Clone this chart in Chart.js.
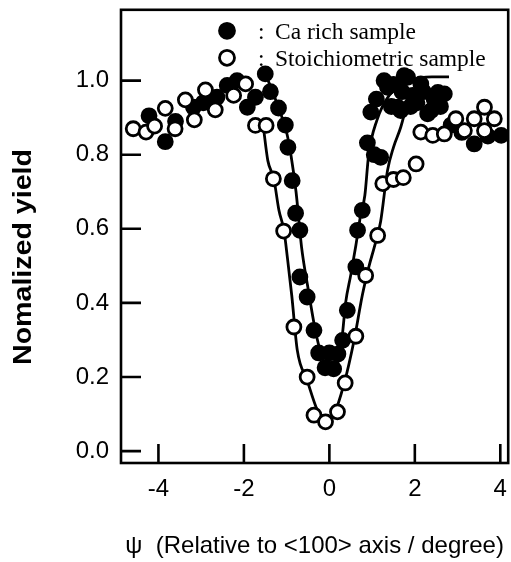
<!DOCTYPE html>
<html>
<head>
<meta charset="utf-8">
<script src="https://cdn.jsdelivr.net/npm/chart.js@4.4.1/dist/chart.umd.min.js"></script>
<style>
  html, body { margin: 0; padding: 0; background: #fff; overflow: hidden; }
  /* a little wider than the window: the last tick label's reserved space falls off the right edge */
  #wrap { width: 518px; height: 562px; }
</style>
</head>
<body>
<div id="wrap"><canvas id="yield-chart"></canvas></div>
<script>
// ============================================================
// DATA
// ============================================================

const xTicks = [-4, -2, 0, 2, 4];
const yTicks = [0.0, 0.2, 0.4, 0.6, 0.8, 1.0];

const seriesLabels = ['Ca rich sample', 'Stoichiometric sample'];
const xTitle = '\u03c8  (Relative to <100> axis / degree)';
const yTitle = 'Nomalized yield';

// filled circles : Ca rich sample
const caRichX = [-4.22, -3.84, -3.60, -3.18, -2.95, -2.63, -2.39, -2.16, -1.92, -1.73, -1.50, -1.38,
  -1.19, -1.03, -0.97, -0.87, -0.79, -0.69, -0.69, -0.52, -0.36, -0.25, -0.10, 0.00, 0.10, 0.20,
  0.31, 0.42, 0.62, 0.66, 0.77, 0.89, 0.97, 1.05, 1.10, 1.20, 1.28, 1.36, 1.45, 1.50, 1.60, 1.67,
  1.70, 1.75, 1.83, 1.90, 1.95, 2.05, 2.14, 2.20, 2.30, 2.38, 2.45, 2.54, 2.60, 2.69, 2.85, 3.10,
  3.39, 3.71, 4.02];
const caRichY = [0.905, 0.835, 0.890, 0.928, 0.940, 0.955, 0.987, 1.000, 0.928, 0.955, 1.018, 0.970,
  0.926, 0.880, 0.820, 0.730, 0.642, 0.596, 0.470, 0.416, 0.326, 0.265, 0.225, 0.265, 0.222, 0.262,
  0.299, 0.380, 0.497, 0.596, 0.650, 0.832, 0.915, 0.800, 0.950, 0.793, 1.000, 0.982, 0.930, 0.990,
  0.928, 0.919, 0.970, 1.013, 1.009, 0.930, 0.960, 0.940, 0.991, 0.970, 0.910, 0.919, 0.950, 0.968,
  0.930, 0.964, 0.880, 0.860, 0.829, 0.850, 0.852];

// open circles : Stoichiometric sample
const stoichX = [-4.59, -4.29, -4.09, -3.84, -3.61, -3.37, -3.16, -2.90, -2.67, -2.24, -1.96, -1.73,
  -1.48, -1.31, -1.07, -0.83, -0.52, -0.36, -0.09, 0.19, 0.37, 0.62, 0.85, 1.13, 1.25, 1.50, 1.73,
  2.03, 2.14, 2.42, 2.69, 2.96, 3.16, 3.39, 3.63, 3.63, 3.86];
const stoichY = [0.870, 0.861, 0.877, 0.925, 0.870, 0.948, 0.894, 0.975, 0.921, 0.960, 0.991, 0.879,
  0.879, 0.735, 0.594, 0.335, 0.200, 0.097, 0.079, 0.106, 0.184, 0.310, 0.474, 0.582, 0.722, 0.733, 0.738,
  0.775, 0.861, 0.852, 0.856, 0.897, 0.865, 0.897, 0.928, 0.865, 0.897];

// fitted curves through the dip
const caFitX = [-1.50, -1.20, -1.00, -0.90, -0.78, -0.65, -0.50, -0.30, -0.12, 0.05, 0.18, 0.30,
  0.38, 0.50, 0.62, 0.73, 0.83, 0.92, 1.11, 1.40, 1.90, 2.40, 2.80];
const caFitY = [1.02, 0.93, 0.86, 0.80, 0.70, 0.55, 0.44, 0.31, 0.24, 0.21, 0.23, 0.31,
  0.40, 0.475, 0.555, 0.636, 0.69, 0.80, 0.892, 0.96, 1.00, 1.01, 1.01];

const stFitX = [-1.55, -1.44, -1.30, -1.18, -1.06, -0.98, -0.88, -0.75, -0.52, -0.28, -0.09, 0.11,
  0.34, 0.58, 0.77, 0.93, 1.05, 1.20, 1.36, 1.50, 1.67, 1.80];
const stFitY = [0.88, 0.784, 0.735, 0.65, 0.594, 0.52, 0.42, 0.272, 0.191, 0.11, 0.075, 0.10,
  0.18, 0.30, 0.42, 0.50, 0.55, 0.62, 0.757, 0.82, 0.874, 0.93];

// ============================================================
// UTILITIES
// ============================================================

function toPoints(xs, ys) {
  return xs.map((x, i) => ({ x, y: ys[i] }));
}

const SANS = '"Liberation Sans", Arial, sans-serif';
const SERIF = '"Liberation Serif", "Times New Roman", serif';
const MARK_R = 7;
const MARK_W = 2.8;

// frame, inward ticks, y title and the in-plot key
const decorPlugin = {
  id: 'decor',
  afterDraw(chart) {
    const { ctx, chartArea: a, scales } = chart;
    ctx.save();
    ctx.strokeStyle = '#000';
    ctx.lineWidth = 2.6;
    ctx.strokeRect(a.left, a.top, a.right - a.left, a.bottom - a.top);

    ctx.beginPath();
    xTicks.forEach(v => {
      const px = scales.x.getPixelForValue(v);
      ctx.moveTo(px, a.bottom);
      ctx.lineTo(px, a.bottom - 19);
    });
    yTicks.forEach(v => {
      const py = scales.y.getPixelForValue(v);
      ctx.moveTo(a.left, py);
      ctx.lineTo(a.left + 20, py);
    });
    ctx.stroke();

    // y title, set a bit below the plot centre as in the original
    ctx.save();
    ctx.translate(24, 257);
    ctx.rotate(-Math.PI / 2);
    ctx.font = 'bold 25px ' + SANS;
    ctx.fillStyle = '#000';
    ctx.textAlign = 'center';
    ctx.textBaseline = 'middle';
    const w = ctx.measureText(yTitle).width;
    ctx.scale(216 / w, 1);
    ctx.fillText(yTitle, 0, 0);
    ctx.restore();

    // key
    const kx = a.left + 106;
    const rows = [a.top + 21, a.top + 48];
    ctx.lineWidth = MARK_W;
    rows.forEach((ry, i) => {
      ctx.beginPath();
      ctx.arc(kx, ry, MARK_R + 0.5, 0, Math.PI * 2);
      ctx.fillStyle = i === 0 ? '#000' : '#fff';
      ctx.fill();
      ctx.stroke();
      ctx.fillStyle = '#000';
      ctx.font = '23.5px ' + SERIF;
      ctx.textBaseline = 'alphabetic';
      ctx.textAlign = 'left';
      ctx.fillText(':', kx + 31, ry + 8);
      ctx.fillText(seriesLabels[i], kx + 48, ry + 8);
    });
    ctx.restore();
  }
};

// ============================================================
// CHART
// ============================================================

const ctx = document.getElementById('yield-chart').getContext('2d');
new Chart(ctx, {
  type: 'scatter',
  data: {
    datasets: [
      {
        type: 'line',
        label: 'Ca rich fit',
        data: toPoints(caFitX, caFitY),
        borderColor: '#000',
        borderWidth: 2.8,
        pointRadius: 0,
        cubicInterpolationMode: 'monotone',
        fill: false,
        order: 4
      },
      {
        type: 'line',
        label: 'Stoichiometric fit',
        data: toPoints(stFitX, stFitY),
        borderColor: '#000',
        borderWidth: 2.8,
        pointRadius: 0,
        cubicInterpolationMode: 'monotone',
        fill: false,
        order: 3
      },
      {
        label: seriesLabels[0],
        data: toPoints(caRichX, caRichY),
        pointRadius: MARK_R,
        pointBorderWidth: MARK_W,
        backgroundColor: '#000',
        borderColor: '#000',
        order: 2
      },
      {
        label: seriesLabels[1],
        data: toPoints(stoichX, stoichY),
        pointRadius: MARK_R,
        pointBorderWidth: MARK_W,
        backgroundColor: '#fff',
        borderColor: '#000',
        order: 1
      }
    ]
  },
  options: {
    responsive: true,
    maintainAspectRatio: false,
    animation: false,
    layout: { padding: { top: 9, right: 0, left: 0, bottom: 0 } },
    plugins: {
      legend: { display: false },
      tooltip: { enabled: false }
    },
    scales: {
      x: {
        type: 'linear',
        min: -4.876,
        max: 4.185,
        afterBuildTicks: s => { s.ticks = xTicks.map(v => ({ value: v })); },
        afterFit: s => { s.height = 99; s.paddingLeft = 0; s.paddingRight = 0; },
        grid: { display: false, drawTicks: false },
        border: { display: false },
        ticks: {
          color: '#000',
          padding: 12,
          font: { family: SANS, size: 24 },
          callback: v => String(v)
        },
        title: {
          display: true,
          text: xTitle,
          color: '#000',
          font: { family: SANS, size: 24 },
          padding: { top: 0, bottom: 1 }
        }
      },
      y: {
        type: 'linear',
        min: -0.032,
        max: 1.191,
        afterBuildTicks: s => { s.ticks = yTicks.map(v => ({ value: v })); },
        afterFit: s => { s.width = 121; s.paddingTop = 0; s.paddingBottom = 0; },
        grid: { display: false, drawTicks: false },
        border: { display: false },
        ticks: {
          color: '#000',
          padding: 12,
          font: { family: SANS, size: 24 },
          callback: v => Number(v).toFixed(1)
        },
        title: { display: false }
      }
    }
  },
  plugins: [decorPlugin]
});
</script>
</body>
</html>
